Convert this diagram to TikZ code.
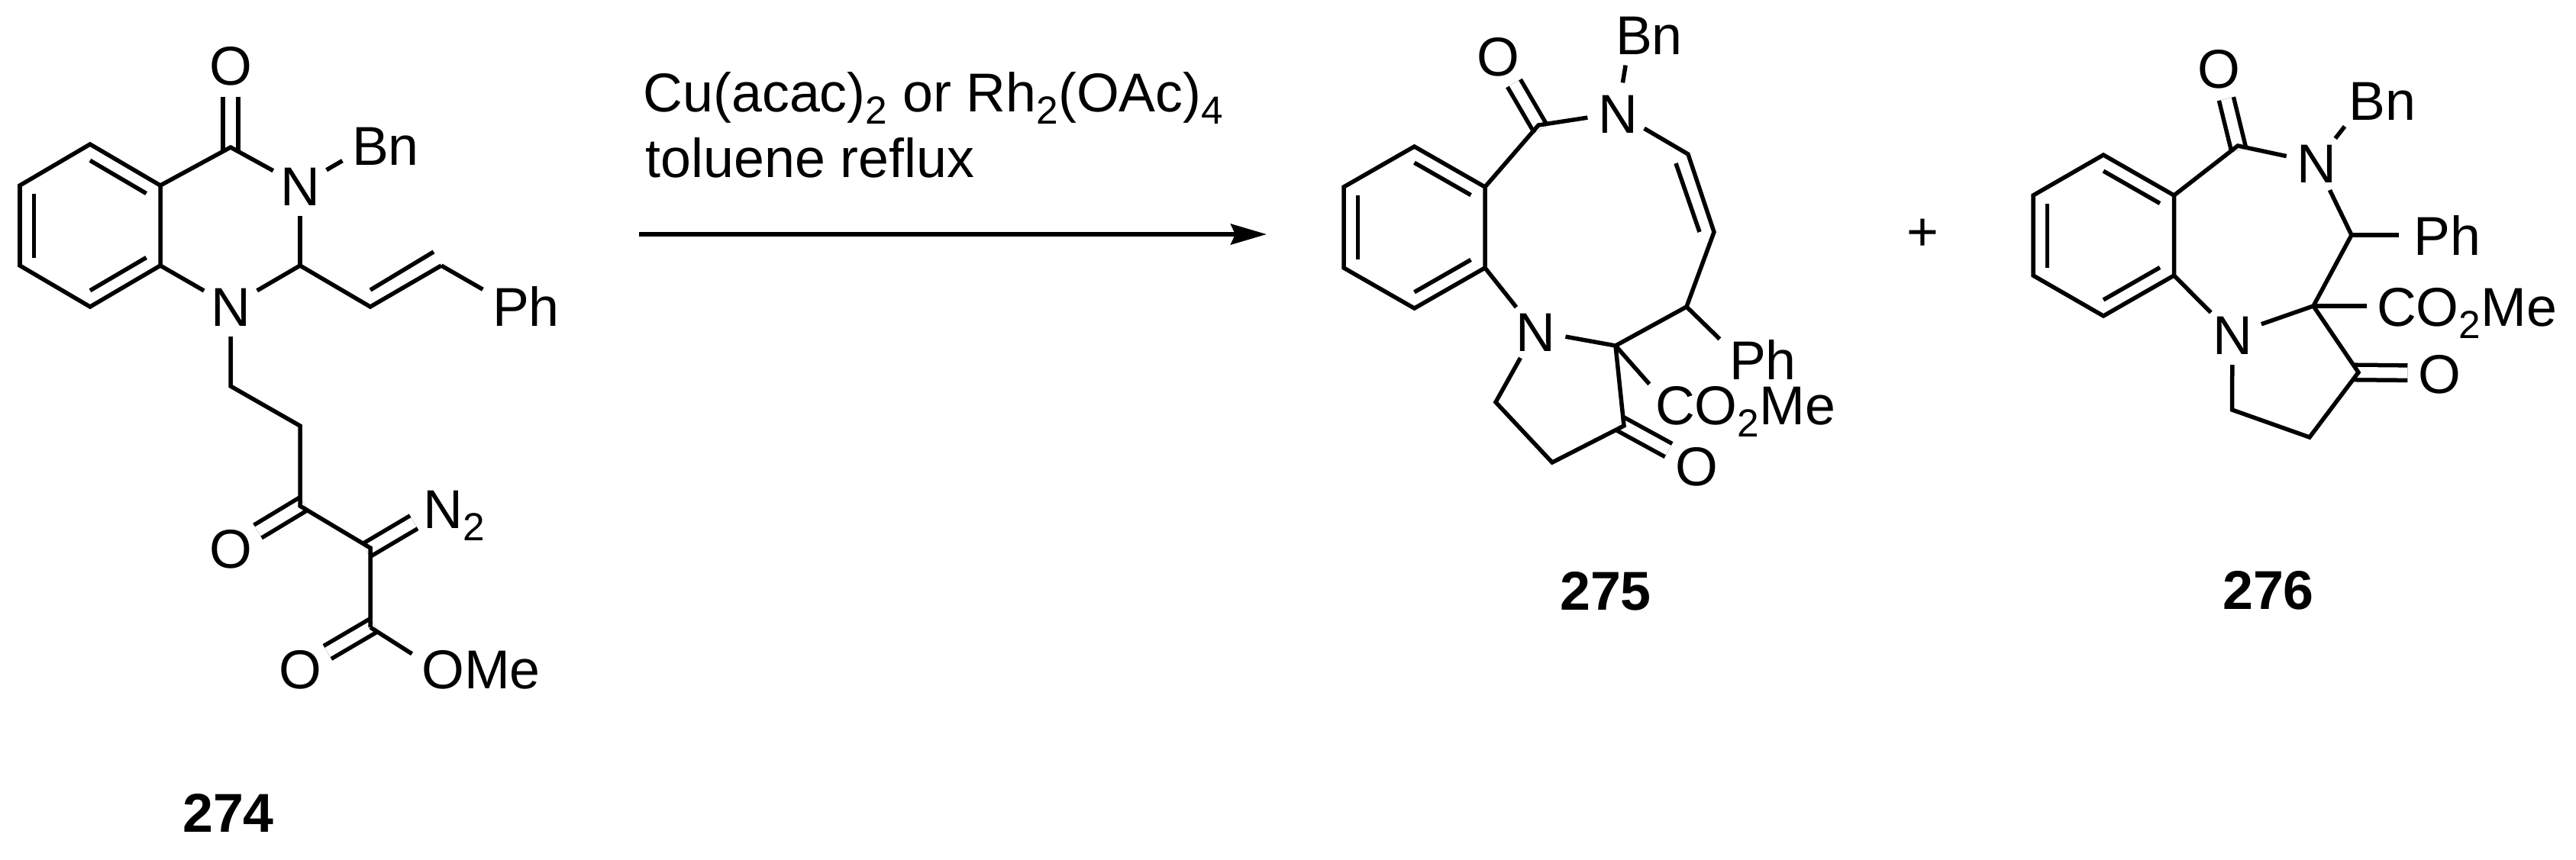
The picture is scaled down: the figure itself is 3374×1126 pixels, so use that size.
\documentclass[tikz,border=0pt]{standalone}
\usepackage{fontspec}
\setmainfont{Liberation Sans}
\usetikzlibrary{arrows.meta,calc}
\newcommand{\lblfont}{\fontsize{20.4}{24}\selectfont}
\newcommand{\chemsub}[1]{\raisebox{-.16cm}{\fontsize{14.6}{16}\selectfont #1}}
\tikzset{
  bond/.style={line width=.055cm},
  dbl/.style={line width=.055cm,double,double distance=.14cm,shorten <=-.06cm},
  atom/.style={circle,inner sep=.02cm,font=\lblfont,text height=.52cm,text depth=0cm},
  grp/.style={inner ysep=0cm,inner xsep=.12cm,font=\lblfont,text height=.52cm,text depth=0cm},
  txt/.style={inner sep=0cm,font=\lblfont,text height=.52cm,text depth=0cm},
  cmpd/.style={txt,font=\lblfont\bfseries}
}
\begin{document}
\begin{tikzpicture}[x=.01cm,y=-.01cm]
        \useasboundingbox (0,0) rectangle (3374,1126);

        \coordinate (r1A) at (118,189);
        \coordinate (r2A) at (210,243);
        \coordinate (r3A) at (210,348);
        \coordinate (r4A) at (118,402);
        \coordinate (r5A) at (26,348);
        \coordinate (r6A) at (26,243);
        \coordinate (ctrA) at (118,295.5);
        \coordinate (coA) at (302,193);
        \coordinate (c2A) at (393,348);
        \coordinate (vnA) at (485,402);
        \coordinate (wnA) at (578,348);
        \coordinate (viA) at (485,380);
        \coordinate (wiA) at (568,330);
        \coordinate (ch1A) at (302,506);
        \coordinate (ch2A) at (393,558);
        \coordinate (keA) at (393,663);
        \coordinate (dzA) at (485,718);
        \coordinate (esA) at (485,822);
        \node[atom] (oA) at (302,85) {O};
        \node[atom] (nA) at (393,243) {N};
        \node[atom] (n1A) at (302,401) {N};
        \node[atom] (okA) at (302,718) {O};
        \node[atom] (oeA) at (393,876) {O};
        \node[grp] (bnA) at (505,190) {Bn};
        \node[grp] (phA) at (689,401) {Ph};
        \node[grp] (n2A) at (595,666) {N\chemsub{2}};
        \node[grp] (omeA) at (630,876) {OMe};
        \node[cmpd] (lblA) at (299,1064) {274};

        \draw[dbl] (coA) -- (oA);
        \draw[dbl] (keA) -- (okA);
        \draw[dbl] (dzA) -- (n2A.199);
        \draw[dbl] (esA) -- (oeA);
        \draw[bond] (r1A) -- (r2A) -- (r3A) -- (r4A) -- (r5A) -- (r6A) -- cycle;
        \draw[bond] ($(r1A)!.2!(ctrA)$) -- ($(r2A)!.2!(ctrA)$);
        \draw[bond] ($(r3A)!.2!(ctrA)$) -- ($(r4A)!.2!(ctrA)$);
        \draw[bond] ($(r5A)!.2!(ctrA)$) -- ($(r6A)!.2!(ctrA)$);
        \draw[bond] (r2A) -- (coA) -- (nA);
        \draw[bond] (nA) -- (bnA.200);
        \draw[bond] (nA) -- (c2A);
        \draw[bond] (r3A) -- (n1A);
        \draw[bond] (n1A) -- (c2A) -- (vnA) -- (wnA);
        \draw[bond] (viA) -- (wiA);
        \draw[bond] (wnA) -- (phA.159);
        \draw[bond] (n1A) -- (ch1A) -- (ch2A) -- (keA) -- (dzA) -- (esA);
        \draw[bond] (esA) -- (omeA.168);

        \node[txt,anchor=west] (rgtA) at (842,120) {Cu(acac)\chemsub{2} or Rh\chemsub{2}(OAc)\chemsub{4}};
        \node[txt,anchor=west] (rgtB) at (845,206) {toluene reflux};
        \coordinate (arrA) at (837,307);
        \coordinate (arrB) at (1659,307);
        \draw[bond,-{Stealth[length=.47cm,width=.27cm,inset=.06cm]}] (arrA) -- (arrB);

        \coordinate (r1B) at (1852.5,192);
        \coordinate (r2B) at (1945,245);
        \coordinate (r3B) at (1945,351);
        \coordinate (r4B) at (1852.5,404);
        \coordinate (r5B) at (1760,351);
        \coordinate (r6B) at (1760,245);
        \coordinate (ctrB) at (1852.5,298);
        \coordinate (coB) at (2015,164);
        \coordinate (chB) at (2211,202);
        \coordinate (cdB) at (2245,304);
        \coordinate (ciB) at (2195,214);
        \coordinate (diB) at (2226,304);
        \coordinate (cpB) at (2209,402);
        \coordinate (quB) at (2116,453);
        \coordinate (keB) at (2127,558);
        \coordinate (ch1B) at (2033,606);
        \coordinate (ch2B) at (1959,527);
        \node[atom] (oB) at (1962,73) {O};
        \node[atom] (nB) at (2119,148) {N};
        \node[atom] (n1B) at (2011,434) {N};
        \node[atom] (okB) at (2222,610) {O};
        \node[grp] (bnB) at (2160,45) {Bn};
        \node[grp] (phB) at (2309,471) {Ph};
        \node[grp] (coeB) at (2286,530) {CO\chemsub{2}Me};
        \node[cmpd] (lblB) at (2103,773) {275};

        \draw[dbl] (coB) -- (oB);
        \draw[dbl] (keB) -- (okB);
        \draw[bond] (r1B) -- (r2B) -- (r3B) -- (r4B) -- (r5B) -- (r6B) -- cycle;
        \draw[bond] ($(r1B)!.2!(ctrB)$) -- ($(r2B)!.2!(ctrB)$);
        \draw[bond] ($(r3B)!.2!(ctrB)$) -- ($(r4B)!.2!(ctrB)$);
        \draw[bond] ($(r5B)!.2!(ctrB)$) -- ($(r6B)!.2!(ctrB)$);
        \draw[bond] (r2B) -- (coB) -- (nB);
        \draw[bond,shorten >=.14cm] (nB) -- (bnB.223);
        \draw[bond] (nB) -- (chB) -- (cdB) -- (cpB) -- (quB) -- (n1B);
        \draw[bond] (ciB) -- (diB);
        \draw[bond] (cpB) -- (phB.north west);
        \draw[bond] (r3B) -- (n1B);
        \draw[bond] (quB) -- (coeB.168);
        \draw[bond] (quB) -- (keB) -- (ch1B) -- (ch2B) -- (n1B);

        \node[txt] (plusA) at (2518,302) {+};

        \coordinate (r1C) at (2755,203);
        \coordinate (r2C) at (2847.5,256);
        \coordinate (r3C) at (2847.5,361);
        \coordinate (r4C) at (2755,414);
        \coordinate (r5C) at (2663,361);
        \coordinate (r6C) at (2663,256);
        \coordinate (ctrC) at (2755,308.5);
        \coordinate (coC) at (2931,191);
        \coordinate (chC) at (3080,308);
        \coordinate (quC) at (3030,401);
        \coordinate (keC) at (3089,488);
        \coordinate (ch1C) at (3025,573);
        \coordinate (ch2C) at (2923.5,537);
        \node[atom] (oC) at (2906,89) {O};
        \node[atom] (nC) at (3034,213) {N};
        \node[atom] (n1C) at (2924,438) {N};
        \node[atom] (okC) at (3195,489) {O};
        \node[grp] (bnC) at (3120,131) {Bn};
        \node[grp] (phC) at (3205,308) {Ph};
        \node[grp] (coeC) at (3231,401) {CO\chemsub{2}Me};
        \node[cmpd] (lblC) at (2971,772) {276};

        \draw[dbl] (coC) -- (oC);
        \draw[dbl] (keC) -- (okC);
        \draw[bond] (r1C) -- (r2C) -- (r3C) -- (r4C) -- (r5C) -- (r6C) -- cycle;
        \draw[bond] ($(r1C)!.2!(ctrC)$) -- ($(r2C)!.2!(ctrC)$);
        \draw[bond] ($(r3C)!.2!(ctrC)$) -- ($(r4C)!.2!(ctrC)$);
        \draw[bond] ($(r5C)!.2!(ctrC)$) -- ($(r6C)!.2!(ctrC)$);
        \draw[bond] (r2C) -- (coC) -- (nC);
        \draw[bond,shorten >=.1cm] (nC) -- (bnC.212);
        \draw[bond] (nC) -- (chC) -- (quC) -- (n1C);
        \draw[bond,shorten >=.06cm] (chC) -- (phC.west);
        \draw[bond] (r3C) -- (n1C);
        \draw[bond] (quC) -- (coeC.west);
        \draw[bond] (quC) -- (keC) -- (ch1C) -- (ch2C) -- (n1C);
\end{tikzpicture}
\end{document}
